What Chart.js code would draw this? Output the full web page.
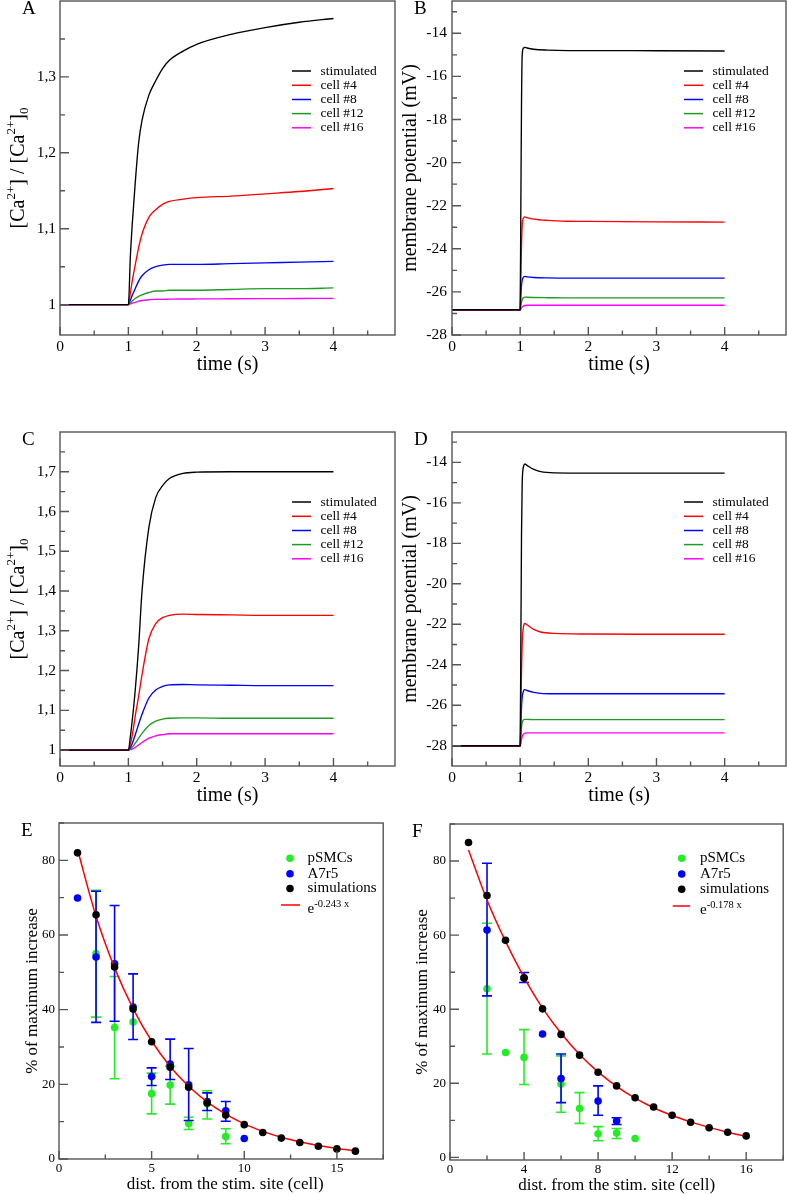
<!DOCTYPE html>
<html>
<head>
<meta charset="utf-8">
<script src="https://cdn.jsdelivr.net/npm/chart.js@4.4.1/dist/chart.umd.min.js"></script>
<style>
  html, body { margin: 0; padding: 0; background: #fff; overflow: hidden; }
  #page { position: relative; width: 787px; height: 1194px; }
  #page canvas { position: absolute; }
</style>
</head>
<body>
<div id="page"></div>
<script>
// ----- DATI -----
// pannello A : [Ca2+]/[Ca2+]0
const timeA = [0, 1, 1.03, 1.06, 1.1, 1.15, 1.2, 1.3, 1.4, 1.5, 1.6, 1.8, 2, 2.5, 3, 3.5, 4];
const stimA = [1, 1, 1.065, 1.11, 1.16, 1.213, 1.243, 1.276, 1.295, 1.311, 1.322, 1.334, 1.343, 1.356, 1.365, 1.372, 1.377];
const cell4A = [1, 1, 1.016, 1.033, 1.052, 1.075, 1.093, 1.115, 1.125, 1.132, 1.136, 1.139, 1.141, 1.143, 1.146, 1.149, 1.153];
const cell8A = [1, 1, 1.006, 1.013, 1.021, 1.031, 1.038, 1.046, 1.050, 1.052, 1.053, 1.053, 1.053, 1.054, 1.055, 1.056, 1.057];
const cell12A = [1, 1, 1.002, 1.005, 1.008, 1.011, 1.013, 1.016, 1.018, 1.018, 1.019, 1.019, 1.019, 1.020, 1.021, 1.021, 1.022];
const cell16A = [1, 1, 1.001, 1.002, 1.003, 1.0045, 1.0055, 1.0065, 1.007, 1.007, 1.0072, 1.0074, 1.0075, 1.0077, 1.0079, 1.0081, 1.0083];

// pannello B : potenziale di membrana
const timeB = [0, 1, 1.01, 1.02, 1.03, 1.05, 1.07, 1.1, 1.2, 1.4, 1.7, 2, 3, 4];
const stimB = [-26.83, -26.83, -22.0, -17.2, -15.0, -14.68, -14.65, -14.68, -14.74, -14.78, -14.8, -14.8, -14.81, -14.82];
const cell4B = [-26.83, -26.83, -25.4, -23.8, -22.9, -22.56, -22.52, -22.55, -22.62, -22.68, -22.72, -22.73, -22.75, -22.76];
const cell8B = [-26.83, -26.83, -26.2, -25.7, -25.45, -25.31, -25.28, -25.3, -25.33, -25.35, -25.36, -25.36, -25.36, -25.36];
const cell12B = [-26.83, -26.83, -26.65, -26.48, -26.36, -26.27, -26.24, -26.25, -26.26, -26.27, -26.28, -26.28, -26.28, -26.28];
const cell16B = [-26.83, -26.83, -26.8, -26.74, -26.7, -26.65, -26.63, -26.62, -26.62, -26.62, -26.62, -26.62, -26.62, -26.62];

// pannello C
const timeC = [0, 1, 1.03, 1.06, 1.1, 1.15, 1.2, 1.3, 1.4, 1.5, 1.6, 1.8, 2, 2.5, 3, 3.5, 4];
const stimC = [1, 1, 1.035, 1.08, 1.15, 1.26, 1.40, 1.56, 1.635, 1.665, 1.683, 1.696, 1.699, 1.700, 1.700, 1.700, 1.700];
const cell4C = [1, 1, 1.015, 1.04, 1.085, 1.135, 1.19, 1.28, 1.318, 1.333, 1.339, 1.342, 1.341, 1.340, 1.339, 1.339, 1.339];
const cell8C = [1, 1, 1.007, 1.018, 1.038, 1.065, 1.09, 1.131, 1.151, 1.160, 1.164, 1.165, 1.164, 1.163, 1.162, 1.162, 1.162];
const cell12C = [1, 1, 1.003, 1.008, 1.017, 1.030, 1.042, 1.062, 1.073, 1.078, 1.080, 1.081, 1.081, 1.080, 1.080, 1.080, 1.080];
const cell16C = [1, 1, 1.001, 1.003, 1.007, 1.013, 1.019, 1.030, 1.036, 1.039, 1.041, 1.041, 1.041, 1.041, 1.041, 1.041, 1.041];

// pannello D
const timeD = [0, 1, 1.01, 1.02, 1.03, 1.05, 1.07, 1.1, 1.2, 1.3, 1.5, 2, 3, 4];
const stimD = [-28, -28, -23, -17.5, -15.0, -14.2, -14.08, -14.15, -14.35, -14.46, -14.52, -14.53, -14.53, -14.53];
const cell4D = [-28, -28, -26.3, -24.3, -22.9, -22.1, -21.96, -22.02, -22.25, -22.38, -22.45, -22.48, -22.49, -22.49];
const cell8D = [-28, -28, -27.1, -26.1, -25.6, -25.28, -25.23, -25.27, -25.36, -25.41, -25.43, -25.43, -25.43, -25.43];
const cell12D = [-28, -28, -27.6, -27.1, -26.85, -26.72, -26.7, -26.7, -26.71, -26.71, -26.71, -26.71, -26.71, -26.71];
const cell16D = [-28, -28, -27.9, -27.7, -27.55, -27.42, -27.38, -27.36, -27.36, -27.36, -27.36, -27.36, -27.36, -27.36];

const labelsABC = ['stimulated', 'cell #4', 'cell #8', 'cell #12', 'cell #16'];
const labelsD = ['stimulated', 'cell #4', 'cell #8', 'cell #8', 'cell #16'];

// pannello E : % dell'aumento massimo
const pSmcX_E = [2, 3, 4, 5, 6, 7, 8, 9];
const pSmcY_E = [55.0, 35.2, 36.7, 17.5, 19.8, 9.5, 14.8, 6.0];
const pSmcLo_E = [38.0, 21.5, null, 12.1, 14.7, 7.9, 10.7, 4.1];
const pSmcHi_E = [72.0, 48.9, null, 23.0, 24.8, 11.2, 18.3, 8.1];
const a7r5X_E = [1, 2, 3, 4, 5, 6, 7, 8, 9, 10];
const a7r5Y_E = [69.9, 54.1, 52.3, 40.7, 22.1, 25.4, 19.9, 15.4, 12.9, 5.5];
const a7r5Lo_E = [null, 36.6, 36.9, 32.0, 19.7, 21.3, 10.3, 13.0, 10.1, null];
const a7r5Hi_E = [null, 71.7, 67.9, 49.6, 24.4, 32.1, 29.6, 17.7, 15.4, null];
const simX = [1, 2, 3, 4, 5, 6, 7, 8, 9, 10, 11, 12, 13, 14, 15, 16];
const simY_E = [82.0, 65.4, 51.4, 40.2, 31.4, 24.6, 19.2, 15.0, 11.8, 9.2, 7.1, 5.6, 4.4, 3.4, 2.7, 2.1];
const fitY_E = [82.9, 65.0, 51.2, 40.3, 31.6, 24.8, 19.5, 15.3, 12.0, 9.4, 7.4, 5.8, 4.6, 3.6, 2.8, 2.2];

// pannello F
const pSmcX_F = [2, 3, 4, 6, 7, 8, 9, 10];
const pSmcY_F = [45.5, 28.3, 27.0, 19.8, 13.2, 6.4, 6.6, 5.1];
const pSmcLo_F = [27.9, null, 19.7, 12.2, 9.2, 4.5, 5.1, null];
const pSmcHi_F = [63.2, null, 34.5, 27.4, 17.5, 8.3, 7.8, null];
const a7r5X_F = [2, 4, 5, 6, 8, 9];
const a7r5Y_F = [61.4, 48.5, 33.3, 21.3, 15.2, 9.8];
const a7r5Lo_F = [43.6, 47.2, null, 14.8, 11.4, 8.9];
const a7r5Hi_F = [79.4, 49.9, null, 27.9, 19.3, 10.7];
const simY_F = [85.0, 70.7, 58.6, 48.4, 40.1, 33.2, 27.6, 23.0, 19.3, 16.1, 13.6, 11.4, 9.5, 8.0, 6.8, 5.8];
const fitY_F = [83.0, 69.5, 58.3, 48.6, 40.3, 33.5, 27.8, 23.1, 19.2, 16.0, 13.4, 11.3, 9.6, 8.1, 6.8, 5.7];

// tacche degli assi
const xTicksTime = [0, 1, 2, 3, 4];
const xMinorTime = [0.5, 1.5, 2.5, 3.5, 4.5];
const yTicksA = [1, 1.1, 1.2, 1.3];
const yMinorA = [1.05, 1.15, 1.25, 1.35];
const yTicksC = [1, 1.1, 1.2, 1.3, 1.4, 1.5, 1.6, 1.7];
const yMinorC = [1.05, 1.15, 1.25, 1.35, 1.45, 1.55, 1.65, 1.75];
const yTicksMV = [-28, -26, -24, -22, -20, -18, -16, -14];
const yMinorMV = [-27, -25, -23, -21, -19, -17, -15, -13];
const xTicksE = [0, 5, 10, 15];
const xMinorE = [2.5, 7.5, 12.5, 17.5];
const xTicksF = [0, 4, 8, 12, 16];
const xMinorF = [2, 6, 10, 14, 18];
const yTicksPct = [0, 20, 40, 60, 80];
const yMinorPct = [10, 30, 50, 70, 90];

// ----- STILE -----
const SERIF = '"Liberation Serif", "Times New Roman", Times, serif';
const lineColors = ['#000000', '#ff0000', '#0000ff', '#1f9a25', '#ff00ff'];
const page = document.getElementById('page');

const pairs = (xs, ys) => xs.map((x, i) => ({ x: x, y: ys[i] }));
const commaFmt = v => (v === 1 ? '1' : v.toFixed(1).replace('.', ','));

// testo con apici e pedici: parti = [testo, dimensione, spostamento]
function richWidth(ctx, parts) {
    let w = 0;
    parts.forEach(([t, size]) => { ctx.font = size + 'px ' + SERIF; w += ctx.measureText(t).width; });
    return w;
}
function drawRich(ctx, parts, x, y) {
    let cx = x;
    parts.forEach(([t, size, dy]) => {
        ctx.font = size + 'px ' + SERIF;
        ctx.fillText(t, cx, y + dy);
        cx += ctx.measureText(t).width;
    });
}

const framePlugin = {
    id: 'frame',
    beforeDatasetDraw(chart, args) {
        const ds = chart.data.datasets[args.index];
        if (!ds.errLo) return;
        const { ctx, scales: { x, y } } = chart;
        ctx.save();
        ctx.strokeStyle = ds.backgroundColor;
        ctx.lineWidth = 1.6;
        ds.data.forEach((p, i) => {
            const lo = ds.errLo[i], hi = ds.errHi[i];
            if (lo == null || hi == null) return;
            const px = x.getPixelForValue(p.x);
            const p1 = y.getPixelForValue(lo), p2 = y.getPixelForValue(hi);
            ctx.beginPath();
            ctx.moveTo(px, p1); ctx.lineTo(px, p2);
            ctx.moveTo(px - 5, p1); ctx.lineTo(px + 5, p1);
            ctx.moveTo(px - 5, p2); ctx.lineTo(px + 5, p2);
            ctx.stroke();
        });
        ctx.restore();
    },
    afterDraw(chart, args, o) {
        const { ctx, chartArea: a, scales: { x, y } } = chart;
        ctx.save();
        // cornice e tacche interne
        ctx.strokeStyle = '#555';
        ctx.lineWidth = 1.4;
        ctx.strokeRect(a.left, a.top, a.right - a.left, a.bottom - a.top);
        ctx.beginPath();
        o.xMajor.forEach(v => { const p = x.getPixelForValue(v); ctx.moveTo(p, a.bottom); ctx.lineTo(p, a.bottom - 8); });
        o.xMinor.forEach(v => { const p = x.getPixelForValue(v); ctx.moveTo(p, a.bottom); ctx.lineTo(p, a.bottom - 4.5); });
        o.yMajor.forEach(v => { const p = y.getPixelForValue(v); ctx.moveTo(a.left, p); ctx.lineTo(a.left + 9, p); });
        o.yMinor.forEach(v => { const p = y.getPixelForValue(v); ctx.moveTo(a.left, p); ctx.lineTo(a.left + 5, p); });
        ctx.stroke();

        ctx.fillStyle = '#000';
        // lettera del pannello
        ctx.font = '19px ' + SERIF;
        ctx.textAlign = 'left';
        ctx.textBaseline = 'alphabetic';
        ctx.fillText(o.letter, a.left - 38, a.top + 12.5);

        // titolo asse x
        ctx.font = o.titleSize + 'px ' + SERIF;
        ctx.textAlign = 'center';
        ctx.fillText(o.xTitle, (a.left + a.right) / 2 + o.xTitleDx, a.bottom + o.xTitleDy);

        // titolo asse y (ruotato)
        ctx.save();
        ctx.translate(a.left - o.yTitleDx, (a.top + a.bottom) / 2);
        ctx.rotate(-Math.PI / 2);
        ctx.textAlign = 'left';
        const w = richWidth(ctx, o.yTitle);
        drawRich(ctx, o.yTitle, -w / 2, 0);
        ctx.restore();

        // legenda
        const lg = o.legend;
        ctx.textAlign = 'left';
        chart.data.datasets.slice().sort((p, q) => p.legendIndex - q.legendIndex).forEach((ds, i) => {
            const ry = a.top + lg.rows[i];
            if (ds.showLine === false) {
                ctx.fillStyle = ds.backgroundColor;
                ctx.beginPath();
                ctx.arc(a.left + lg.markX, ry, 3.8, 0, Math.PI * 2);
                ctx.fill();
                ctx.fillStyle = '#000';
                ctx.font = lg.size + 'px ' + SERIF;
                ctx.textBaseline = 'middle';
                ctx.fillText(ds.label, a.left + lg.textX, ry);
            } else {
                ctx.strokeStyle = ds.borderColor;
                ctx.lineWidth = 1.5;
                ctx.beginPath();
                ctx.moveTo(a.left + lg.lineX0, ry);
                ctx.lineTo(a.left + lg.lineX1, ry);
                ctx.stroke();
                ctx.fillStyle = '#000';
                if (ds.richLabel) {
                    ctx.textBaseline = 'alphabetic';
                    drawRich(ctx, ds.richLabel, a.left + lg.textX, ry + 8);
                } else {
                    ctx.font = lg.size + 'px ' + SERIF;
                    ctx.textBaseline = 'middle';
                    ctx.fillText(ds.label, a.left + lg.textX, ry);
                }
            }
        });
        ctx.restore();
    }
};

// niente margini extra delle scale: l'area del grafico resta dove la vogliamo
function noScalePadding(s) {
    s.paddingTop = 0; s.paddingBottom = 0; s.paddingLeft = 0; s.paddingRight = 0;
}

function makePanel(p) {
    const f = p.frame;
    const padL = 62, padT = Math.min(f.T, 30), padB = 52, padR = 1;
    const Wy = 40, Hx = 26;
    const cx = f.L - padL, cy = f.T - padT;
    const w = f.R - cx + padR, h = f.B - cy + padB;
    const cv = document.createElement('canvas');
    cv.width = w; cv.height = h;
    cv.style.left = cx + 'px'; cv.style.top = cy + 'px';
    cv.style.width = w + 'px'; cv.style.height = h + 'px';
    page.appendChild(cv);

    const tickFont = { family: SERIF, size: p.tickSize };
    new Chart(cv, {
        type: 'line',
        data: { datasets: p.datasets },
        options: {
            responsive: false,
            animation: false,
            devicePixelRatio: 1,
            layout: { padding: { left: padL - Wy, top: padT, right: padR, bottom: padB - Hx } },
            elements: { point: { radius: 0, hoverRadius: 0 } },
            plugins: {
                legend: { display: false },
                tooltip: { enabled: false },
                frame: p.deco
            },
            scales: {
                x: {
                    type: 'linear', min: p.x.min, max: p.x.max,
                    afterFit: s => { s.height = Hx; noScalePadding(s); },
                    afterBuildTicks: s => { s.ticks = p.x.major.map(v => ({ value: v })); },
                    grid: { display: false, drawTicks: false, tickLength: 0 }, border: { display: false },
                    ticks: { font: tickFont, color: '#000', padding: p.x.pad, maxRotation: 0, autoSkip: false, callback: v => String(v) }
                },
                y: {
                    type: 'linear', min: p.y.min, max: p.y.max,
                    afterFit: s => { s.width = Wy; noScalePadding(s); },
                    afterBuildTicks: s => { s.ticks = p.y.major.map(v => ({ value: v })); },
                    grid: { display: false, drawTicks: false, tickLength: 0 }, border: { display: false },
                    ticks: { font: tickFont, color: '#000', padding: p.y.pad, autoSkip: false, callback: p.y.fmt }
                }
            }
        },
        plugins: [framePlugin]
    });
}

function lineSets(t, series, labels) {
    return series.map((s, i) => ({
        label: labels[i],
        data: pairs(t, s),
        borderColor: lineColors[i],
        backgroundColor: lineColors[i],
        borderWidth: 1.35,
        pointRadius: 0,
        cubicInterpolationMode: 'monotone',
        legendIndex: i,
        order: i
    }));
}

function scatterSets(e) {
    return [
        { label: 'pSMCs', data: pairs(e.pX, e.pY), errLo: e.pLo, errHi: e.pHi, showLine: false,
          pointRadius: 3.8, pointBorderWidth: 0, backgroundColor: '#22ee22', borderColor: '#22ee22', legendIndex: 0, order: 3 },
        { label: 'A7r5', data: pairs(e.aX, e.aY), errLo: e.aLo, errHi: e.aHi, showLine: false,
          pointRadius: 3.8, pointBorderWidth: 0, backgroundColor: '#0000ff', borderColor: '#0000ff', legendIndex: 1, order: 2 },
        { label: 'simulations', data: pairs(simX, e.sY), showLine: false,
          pointRadius: 3.8, pointBorderWidth: 0, backgroundColor: '#000000', borderColor: '#000000', legendIndex: 2, order: 0 },
        { label: e.fitLabel, richLabel: [['e', 15, 0], [e.fitExp, 10.5, -6.5]], data: pairs(simX, e.fY),
          borderColor: '#ff0000', backgroundColor: '#ff0000', borderWidth: 1.5, pointRadius: 0,
          cubicInterpolationMode: 'monotone', legendIndex: 3, order: 1 }
    ];
}

const caTitle = [['[Ca', 20, 0], ['2+', 13, -9], ['] / [Ca', 20, 0], ['2+', 13, -9], [']', 20, 0], ['0', 13, 4]];
const mvTitle = [['membrane potential (mV)', 20, 0]];
const pctTitle = [['% of maximum increase', 17, 0]];
const legendLines = { rows: [70, 84.3, 98.5, 112.6, 126.8], lineX0: 232, lineX1: 251, textX: 260.5, size: 13.5 };

function decoTime(letter, yTitle, yMajor, yMinor) {
    return { letter: letter, xTitle: 'time (s)', titleSize: 20, xTitleDx: 0, xTitleDy: 35,
             yTitle: yTitle, yTitleDx: 36, xMajor: xTicksTime, xMinor: xMinorTime,
             yMajor: yMajor, yMinor: yMinor, legend: legendLines };
}

// A
makePanel({
    frame: { L: 60, T: 1, R: 395, B: 335 }, tickSize: 15.5,
    x: { min: 0, max: 4.9, major: xTicksTime, pad: 3 },
    y: { min: 0.96, max: 1.4, major: yTicksA, pad: 4, fmt: commaFmt },
    datasets: lineSets(timeA, [stimA, cell4A, cell8A, cell12A, cell16A], labelsABC),
    deco: decoTime('A', caTitle, yTicksA, yMinorA)
});
// B
makePanel({
    frame: { L: 452, T: 1, R: 786, B: 335 }, tickSize: 15.5,
    x: { min: 0, max: 4.9, major: xTicksTime, pad: 3 },
    y: { min: -28, max: -12.5, major: yTicksMV, pad: 5, fmt: v => String(v) },
    datasets: lineSets(timeB, [stimB, cell4B, cell8B, cell12B, cell16B], labelsABC),
    deco: decoTime('B', mvTitle, yTicksMV, yMinorMV)
});
// C
makePanel({
    frame: { L: 60, T: 432, R: 395, B: 766 }, tickSize: 15.5,
    x: { min: 0, max: 4.9, major: xTicksTime, pad: 3 },
    y: { min: 0.96, max: 1.8, major: yTicksC, pad: 4, fmt: commaFmt },
    datasets: lineSets(timeC, [stimC, cell4C, cell8C, cell12C, cell16C], labelsABC),
    deco: decoTime('C', caTitle, yTicksC, yMinorC)
});
// D
makePanel({
    frame: { L: 452, T: 432, R: 786, B: 766 }, tickSize: 15.5,
    x: { min: 0, max: 4.9, major: xTicksTime, pad: 3 },
    y: { min: -29, max: -12.5, major: yTicksMV, pad: 5, fmt: v => String(v) },
    datasets: lineSets(timeD, [stimD, cell4D, cell8D, cell12D, cell16D], labelsD),
    deco: decoTime('D', mvTitle, yTicksMV, yMinorMV)
});
// E
makePanel({
    frame: { L: 59, T: 823, R: 386, B: 1159 }, tickSize: 13,
    x: { min: 0, max: 17.5, major: xTicksE, pad: 2 },
    y: { min: 0, max: 90, major: yTicksPct, pad: 4, fmt: v => String(v) },
    datasets: scatterSets({ pX: pSmcX_E, pY: pSmcY_E, pLo: pSmcLo_E, pHi: pSmcHi_E,
                            aX: a7r5X_E, aY: a7r5Y_E, aLo: a7r5Lo_E, aHi: a7r5Hi_E,
                            sY: simY_E, fY: fitY_E, fitLabel: 'e-0.243 x', fitExp: '-0.243 x' }),
    deco: { letter: 'E', xTitle: 'dist. from the stim. site (cell)', titleSize: 17, xTitleDx: 4, xTitleDy: 30,
            yTitle: pctTitle, yTitleDx: 22, xMajor: xTicksE, xMinor: xMinorE, yMajor: yTicksPct, yMinor: yMinorPct,
            legend: { rows: [35.3, 50.8, 65.5, 82], markX: 231, textX: 248.5, lineX0: 222, lineX1: 241, size: 15 } }
});
// F
makePanel({
    frame: { L: 450, T: 824, R: 786, B: 1160 }, tickSize: 13,
    x: { min: 0, max: 18, major: xTicksF, pad: 2 },
    y: { min: -0.7, max: 90, major: yTicksPct, pad: 4, fmt: v => String(v) },
    datasets: scatterSets({ pX: pSmcX_F, pY: pSmcY_F, pLo: pSmcLo_F, pHi: pSmcHi_F,
                            aX: a7r5X_F, aY: a7r5Y_F, aLo: a7r5Lo_F, aHi: a7r5Hi_F,
                            sY: simY_F, fY: fitY_F, fitLabel: 'e-0.178 x', fitExp: '-0.178 x' }),
    deco: { letter: 'F', xTitle: 'dist. from the stim. site (cell)', titleSize: 17, xTitleDx: 0, xTitleDy: 30,
            yTitle: pctTitle, yTitleDx: 23, xMajor: xTicksF, xMinor: xMinorF, yMajor: yTicksPct, yMinor: yMinorPct,
            legend: { rows: [34.3, 50, 65.3, 82], markX: 231.7, textX: 250, lineX0: 222.7, lineX1: 240, size: 15 } }
});
</script>
</body>
</html>
